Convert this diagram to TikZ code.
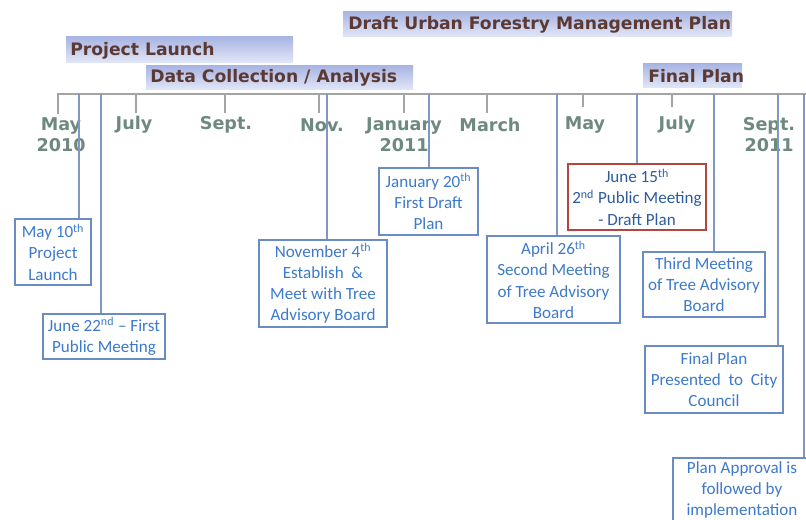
\documentclass[tikz,border=0pt]{standalone}
\usepackage{fontspec}
\setmainfont{Carlito}
\newfontfamily\headfont{DejaVu Sans}
\usetikzlibrary{calc}
\definecolor{axisgrey}{HTML}{A4A4A4}
\definecolor{eventline}{HTML}{7E98C4}
\definecolor{boxblue}{HTML}{6A8CC4}
\definecolor{boxtext}{HTML}{3D7ACB}
\definecolor{darktext}{HTML}{2E5C9E}
\definecolor{boxred}{HTML}{B4463F}
\definecolor{monthgreen}{HTML}{6E8A7E}
\definecolor{phasebrown}{HTML}{5C3A33}
\definecolor{phasetop}{HTML}{A9B5E3}
\definecolor{phasebot}{HTML}{E2E7F7}
\tikzset{
  axis/.style={draw=axisgrey, line width=1.3pt},
  tick/.style={draw=axisgrey, line width=0.8pt},
  link/.style={draw=eventline, line width=1.1pt},
  phasebar/.style={top color=phasetop, bottom color=phasebot, draw=none},
  phasetext/.style={font=\headfont\bfseries\fontsize{12.9}{14}\selectfont, text=phasebrown, inner sep=0pt, anchor=west},
  month/.style={font=\headfont\bfseries\fontsize{13.2}{15.8}\selectfont, text=monthgreen, align=center, inner sep=0pt},
  event/.style={draw=boxblue, line width=0.8pt, text=boxtext, align=center, inner sep=0pt,
    font=\fontsize{12.8}{15.8}\selectfont},
}
\begin{document}
\begin{tikzpicture}[x=0.75pt, y=-0.75pt]
\useasboundingbox (0,0) rectangle (806,520);
\clip (0,0) rectangle (806,520);
\fill[white] (0,0) rectangle (806,520);

% phase banners
\path[phasebar] (343,12) rectangle (732,37);
\node[phasetext] (pdraft) at (348,25) {Draft Urban Forestry Management Plan};
\path[phasebar] (66,37) rectangle (293,63);
\node[phasetext] (plaunch) at (70,51) {Project Launch};
\path[phasebar] (146,66) rectangle (413,90);
\node[phasetext] (pdata) at (150,78) {Data Collection / Analysis};
\path[phasebar] (643,64) rectangle (742,88);
\node[phasetext] (pfinal) at (648,76) {Final Plan};

% time axis
\coordinate (a0) at (58,94);
\coordinate (a1) at (806,94);
\coordinate (a0b) at (58,114);
\draw[axis] (a0b) -- (a0) -- (a1);

% month ticks
\foreach \mx/\my in {136/113, 225/113, 319/113, 404/113, 487/113, 583/107, 672/107}{
  \draw[tick] (\mx,94) -- (\mx,\my);
}

% month labels
\node[month] (mmay10) at (61,135) {May\\2010};
\node[month] (mjul10) at (134,125) {July};
\node[month] (msep10) at (226,125) {Sept.};
\node[month] (mnov10) at (322,125) {Nov.};
\node[month] (mjan11) at (404,135) {January\\2011};
\node[month] (mmar11) at (490,125) {March};
\node[month] (mmay11) at (585,125) {May};
\node[month] (mjul11) at (677,125) {July};
\node[month] (msep11) at (769,135) {Sept.\\2011};

% event boxes
\node[event, minimum width=57pt, minimum height=49.5pt] (b1) at (53,252)
  {May 10\textsuperscript{th}\\Project\\Launch};
\node[event, minimum width=91.5pt, minimum height=33.75pt] (b2) at (104,336.5)
  {June 22\textsuperscript{nd} -- First\\Public Meeting};
\node[event, minimum width=96pt, minimum height=65.25pt] (b3) at (323,283.5)
  {November 4\textsuperscript{th}\\Establish~ \&\\Meet with Tree\\Advisory Board};
\node[event, minimum width=74.25pt, minimum height=50.25pt] (b4) at (428.5,201.5)
  {January 20\textsuperscript{th}\\First Draft\\Plan};
\node[event, minimum width=99.75pt, minimum height=65.25pt] (b5) at (553.5,279.5)
  {April 26\textsuperscript{th}\\Second Meeting\\of Tree Advisory\\Board};
\node[event, draw=boxred, text=darktext, minimum width=103.5pt, minimum height=49.5pt] (b6) at (637,197)
  {June 15\textsuperscript{th}\\2\textsuperscript{nd} Public Meeting\\- Draft Plan};
\node[event, minimum width=91.5pt, minimum height=48.75pt] (b7) at (704,284.5)
  {Third Meeting\\of Tree Advisory\\Board};
\node[event, minimum width=103.5pt, minimum height=50.25pt] (b8) at (714,379.5)
  {Final Plan\\Presented~ to~ City\\Council};
\node[event, minimum width=103.5pt, minimum height=48pt] (b9) at (742,490)
  {Plan Approval is\\followed by\\implementation};

% connectors from the axis to each event
\coordinate (e1) at (79,94);
\coordinate (e2) at (101,94);
\coordinate (e3) at (327,94);
\coordinate (e4) at (429,94);
\coordinate (e5) at (557,94);
\coordinate (e6) at (637,94);
\coordinate (e7) at (714,94);
\coordinate (e8) at (778,94);
\coordinate (e9) at (804,94);
\draw[link] (e1) -- (e1 |- b1.north);
\draw[link] (e2) -- (e2 |- b2.north);
\draw[link] (e3) -- (e3 |- b3.north);
\draw[link] (e4) -- (e4 |- b4.north);
\draw[link] (e5) -- (e5 |- b5.north);
\draw[link] (e6) -- (e6 |- b6.north);
\draw[link] (e7) -- (e7 |- b7.north);
\draw[link] (e8) -- (e8 |- b8.north);
\draw[link] (e9) -- (e9 |- b9.north);
\end{tikzpicture}
\end{document}
